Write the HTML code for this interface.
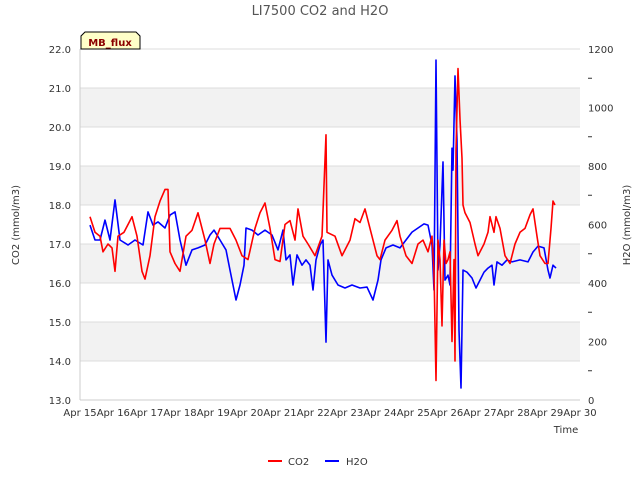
<!DOCTYPE html>
<html><head><meta charset="utf-8"><style>
body{margin:0;background:#fff;font-family:"DejaVu Sans",sans-serif}
svg text{font-family:"DejaVu Sans",sans-serif}
</style></head><body>
<svg id="c" width="640" height="480"></svg>
<script>
const co2Days=[0.30,0.45,0.60,0.69,0.84,0.96,1.05,1.14,1.32,1.56,1.71,1.86,1.95,2.10,2.25,2.40,2.55,2.64,2.70,2.85,3.00,3.18,3.36,3.54,3.75,3.90,4.02,4.20,4.50,4.68,4.86,5.04,5.25,5.40,5.55,5.70,5.85,6.00,6.15,6.30,6.45,6.54,6.69,6.84,7.05,7.26,7.38,7.41,7.65,7.86,8.10,8.25,8.40,8.55,8.70,8.91,9.00,9.15,9.36,9.51,9.60,9.78,9.96,10.14,10.29,10.44,10.56,10.62,10.68,10.74,10.80,10.86,10.92,10.98,11.04,11.10,11.16,11.22,11.25,11.28,11.34,11.40,11.46,11.49,11.55,11.70,11.85,11.94,12.12,12.24,12.30,12.42,12.48,12.60,12.75,12.90,13.05,13.20,13.35,13.50,13.59,13.71,13.80,13.95,14.04,14.13,14.19,14.25];
const co2Vals=[17.7,17.3,17.2,16.8,17.0,16.9,16.3,17.2,17.3,17.7,17.2,16.3,16.1,16.7,17.7,18.1,18.4,18.4,16.8,16.5,16.3,17.2,17.35,17.8,17.1,16.5,17.0,17.4,17.4,17.1,16.7,16.6,17.4,17.8,18.05,17.4,16.6,16.55,17.5,17.6,17.1,17.9,17.2,17.0,16.7,17.2,19.8,17.3,17.2,16.7,17.1,17.65,17.55,17.9,17.4,16.7,16.6,17.1,17.35,17.6,17.2,16.7,16.5,17.0,17.1,16.8,17.2,16.3,13.5,17.1,16.6,14.9,17.1,16.5,16.6,16.8,14.5,16.6,14.0,19.4,21.5,20.2,19.2,18.0,17.8,17.55,17.0,16.7,17.0,17.3,17.7,17.3,17.7,17.4,16.7,16.5,17.0,17.3,17.4,17.75,17.9,17.2,16.7,16.5,16.5,17.4,18.1,18.0];
const h2oDays=[0.30,0.45,0.60,0.75,0.90,1.05,1.20,1.44,1.65,1.89,2.04,2.19,2.34,2.55,2.70,2.85,3.00,3.18,3.36,3.54,3.75,3.90,4.02,4.20,4.38,4.50,4.62,4.68,4.80,4.92,4.98,5.16,5.34,5.55,5.76,5.94,6.09,6.18,6.30,6.39,6.51,6.66,6.78,6.90,6.99,7.08,7.20,7.29,7.38,7.44,7.56,7.74,7.95,8.16,8.40,8.61,8.79,8.94,9.03,9.18,9.39,9.60,9.78,9.96,10.14,10.32,10.44,10.56,10.62,10.68,10.74,10.80,10.89,10.95,11.04,11.10,11.16,11.19,11.25,11.31,11.37,11.43,11.49,11.61,11.76,11.88,12.00,12.12,12.24,12.36,12.42,12.51,12.66,12.81,12.96,13.20,13.44,13.59,13.74,13.92,14.04,14.10,14.19,14.28];
const h2oVals=[598,547,547,615,547,684,547,530,547,530,643,598,609,588,632,643,547,461,513,520,530,564,581,547,513,444,376,342,393,461,588,581,564,581,564,513,581,479,496,393,496,461,479,461,376,479,530,547,198,479,427,393,383,393,383,386,342,410,479,520,530,520,547,574,588,602,598,530,376,1162,444,530,814,410,427,393,861,786,1108,889,239,41,444,437,417,383,410,437,451,461,393,472,461,479,472,479,472,506,526,520,444,417,461,451];
const yTicks=[13,14,15,16,17,18,19,20,21,22];
const y2Ticks=[0,200,400,600,800,1000,1200];
const xTickLabels=["Apr 15","Apr 16","Apr 17","Apr 18","Apr 19","Apr 20","Apr 21","Apr 22","Apr 23","Apr 24","Apr 25","Apr 26","Apr 27","Apr 28","Apr 29","Apr 30"];

const NS="http://www.w3.org/2000/svg",svg=document.getElementById('c');
const L=80,R=580,T=49,B=400;
const xs=d=>L+d*(R-L)/15, ys=v=>B-(v-13)*(B-T)/9, ys2=v=>B-v*(B-T)/1200;
function mk(t,a,txt){const e=document.createElementNS(NS,t);for(const k in a)e.setAttribute(k,a[k]);if(txt!=null)e.textContent=txt;svg.appendChild(e);return e;}
for(let v=13;v<22;v++){const b=mk('rect',{x:L,y:ys(v+1),width:R-L,height:ys(v)-ys(v+1),fill:(v%2==0)?'#f2f2f2':'#fff'});

}
yTicks.forEach(v=>{const g=mk('line',{x1:L,x2:R,y1:ys(v),y2:ys(v),stroke:'#dcdcdc','stroke-width':1});


const t=mk('text',{x:L-9,y:ys(v)+4,'text-anchor':'end','font-size':10,fill:'#333'},v.toFixed(1));

});
y2Ticks.forEach(v=>{const t=mk('text',{x:R+8,y:ys2(v)+4,'font-size':10,fill:'#333'},String(v));

});
for(let v=100;v<1200;v+=200){const m=mk('line',{x1:R+8,x2:R+12,y1:ys2(v),y2:ys2(v),stroke:'#333'});

}
mk('line',{x1:L,x2:L,y1:T,y2:B,stroke:'#ccc'});
mk('line',{x1:L,x2:R,y1:B,y2:B,stroke:'#ccc'});
xTickLabels.forEach((s,i)=>{const t=mk('text',{x:xs(i),y:B+16,'text-anchor':'middle','font-size':10,fill:'#333'},s);

});
function series(days,vals,sy,col,name){const d=days.map((x,i)=>(i?'L':'M')+xs(x).toFixed(1)+','+sy(vals[i]).toFixed(1)).join('');
const p=mk('path',{d:d,fill:'none',stroke:col,'stroke-width':1.6,'stroke-linejoin':'round'});

}
series(h2oDays,h2oVals,ys2,'#0000ff','h2o-line');
series(co2Days,co2Vals,ys,'#ff0000','co2-line');
</script>
<svg width="640" height="480" style="position:absolute;left:0;top:0">
<text x="320" y="15" text-anchor="middle" font-size="13" fill="#555">LI7500 CO2 and H2O</text>
<text x="19" y="225" text-anchor="middle" font-size="10" fill="#333" transform="rotate(-90 19 225)">CO2 (mmol/m3)</text>
<text x="630" y="225" text-anchor="middle" font-size="10" fill="#333" transform="rotate(-90 630 225)">H2O (mmol/m3)</text>
<text x="566" y="433" text-anchor="middle" font-size="10" fill="#333">Time</text>
<path d="M81,49 L81,36 L85,32 L136,32 L140,36 L140,49 Z" fill="#ffffc8" stroke="#000" stroke-width="1"/>
<text x="110" y="46" text-anchor="middle" font-size="10" font-weight="bold" fill="#8b0000">MB_flux</text>
<g>
<line x1="268" x2="282" y1="461" y2="461" stroke="#ff0000" stroke-width="2"/>
<text x="288" y="465" font-size="10" fill="#333">CO2</text>
<line x1="325" x2="339" y1="461" y2="461" stroke="#0000ff" stroke-width="2"/>
<text x="346" y="465" font-size="10" fill="#333">H2O</text>
</g>
</svg>
</body></html>
